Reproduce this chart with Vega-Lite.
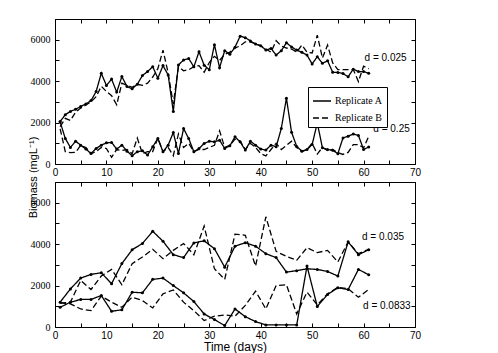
{
  "$schema": "https://vega.github.io/schema/vega-lite/v6.json",
  "autosize": {"type": "pad"},
  "padding": {"left": 26, "top": 18, "right": 0, "bottom": 0},
  "background": "white",
  "bounds": "flush",
  "spacing": 18,
  "resolve": {"scale": {"strokeDash": "independent"}, "legend": {"strokeDash": "independent"}},
  "config": {
    "view": {"stroke": "black", "strokeWidth": 1},
    "axis": {"domain": false, "grid": false, "tickColor": "black", "tickSize": -4, "tickWidth": 1, "labelColor": "black", "titleColor": "black"}
  },
  "datasets": {
    "top": [
      {"day":1,"d":"0.025","A":2050,"B":1800},{"day":1,"d":"0.25","A":2030,"B":1700},
      {"day":2,"d":"0.025","A":2380,"B":2200},{"day":2,"d":"0.25","A":1230,"B":600},
      {"day":3,"d":"0.025","A":2540,"B":2100},{"day":3,"d":"0.25","A":800,"B":550},
      {"day":4,"d":"0.025","A":2640,"B":2500},{"day":4,"d":"0.25","A":1100,"B":560},
      {"day":5,"d":"0.025","A":2780,"B":2700},{"day":5,"d":"0.25","A":910,"B":900},
      {"day":6,"d":"0.025","A":2900,"B":2850},{"day":6,"d":"0.25","A":720,"B":800},
      {"day":7,"d":"0.025","A":3060,"B":3000},{"day":7,"d":"0.25","A":510,"B":500},
      {"day":8,"d":"0.025","A":3500,"B":3250},{"day":8,"d":"0.25","A":750,"B":600},
      {"day":9,"d":"0.025","A":4380,"B":3750},{"day":9,"d":"0.25","A":910,"B":800},
      {"day":10,"d":"0.025","A":3790,"B":3500},{"day":10,"d":"0.25","A":1020,"B":750},
      {"day":11,"d":"0.025","A":4100,"B":3300},{"day":11,"d":"0.25","A":1040,"B":320},
      {"day":12,"d":"0.025","A":3470,"B":2860},{"day":12,"d":"0.25","A":720,"B":700},
      {"day":13,"d":"0.025","A":4220,"B":3900},{"day":13,"d":"0.25","A":910,"B":650},
      {"day":14,"d":"0.025","A":3740,"B":3800},{"day":14,"d":"0.25","A":620,"B":700},
      {"day":15,"d":"0.025","A":3630,"B":3700},{"day":15,"d":"0.25","A":400,"B":500},
      {"day":16,"d":"0.025","A":3850,"B":3850},{"day":16,"d":"0.25","A":590,"B":1250},
      {"day":17,"d":"0.025","A":4270,"B":3800},{"day":17,"d":"0.25","A":640,"B":500},
      {"day":18,"d":"0.025","A":4460,"B":3900},{"day":18,"d":"0.25","A":430,"B":600},
      {"day":19,"d":"0.025","A":4700,"B":4200},{"day":19,"d":"0.25","A":830,"B":600},
      {"day":20,"d":"0.025","A":4140,"B":4600},{"day":20,"d":"0.25","A":1230,"B":1250},
      {"day":21,"d":"0.025","A":4750,"B":5500},{"day":21,"d":"0.25","A":590,"B":600},
      {"day":22,"d":"0.025","A":4300,"B":4400},{"day":22,"d":"0.25","A":910,"B":800},
      {"day":23,"d":"0.025","A":2530,"B":2900},{"day":23,"d":"0.25","A":1520,"B":400},
      {"day":24,"d":"0.025","A":4780,"B":4700},{"day":24,"d":"0.25","A":510,"B":1450},
      {"day":25,"d":"0.025","A":5020,"B":4500},{"day":25,"d":"0.25","A":1710,"B":800},
      {"day":26,"d":"0.025","A":5090,"B":4550},{"day":26,"d":"0.25","A":1230,"B":1000},
      {"day":27,"d":"0.025","A":4690,"B":4700},{"day":27,"d":"0.25","A":590,"B":600},
      {"day":28,"d":"0.025","A":5420,"B":4750},{"day":28,"d":"0.25","A":750,"B":700},
      {"day":29,"d":"0.025","A":4770,"B":4430},{"day":29,"d":"0.25","A":990,"B":700},
      {"day":30,"d":"0.025","A":4550,"B":4900},{"day":30,"d":"0.25","A":1100,"B":800},
      {"day":31,"d":"0.025","A":5760,"B":5200},{"day":31,"d":"0.25","A":1070,"B":900},
      {"day":32,"d":"0.025","A":4650,"B":5000},{"day":32,"d":"0.25","A":1150,"B":1600},
      {"day":33,"d":"0.025","A":5470,"B":5300},{"day":33,"d":"0.25","A":750,"B":800},
      {"day":34,"d":"0.025","A":5300,"B":5400},{"day":34,"d":"0.25","A":880,"B":900},
      {"day":35,"d":"0.025","A":5640,"B":5600},{"day":35,"d":"0.25","A":1310,"B":1200},
      {"day":36,"d":"0.025","A":6170,"B":5700},{"day":36,"d":"0.25","A":1070,"B":1100},
      {"day":37,"d":"0.025","A":6100,"B":5900},{"day":37,"d":"0.25","A":670,"B":700},
      {"day":38,"d":"0.025","A":5940,"B":5900},{"day":38,"d":"0.25","A":1100,"B":1000},
      {"day":39,"d":"0.025","A":5790,"B":5800},{"day":39,"d":"0.25","A":910,"B":800},
      {"day":40,"d":"0.025","A":5710,"B":5700},{"day":40,"d":"0.25","A":720,"B":500},
      {"day":41,"d":"0.025","A":5500,"B":5550},{"day":41,"d":"0.25","A":670,"B":390},
      {"day":42,"d":"0.025","A":5580,"B":5400},{"day":42,"d":"0.25","A":910,"B":700},
      {"day":43,"d":"0.025","A":5260,"B":5950},{"day":43,"d":"0.25","A":830,"B":1000},
      {"day":44,"d":"0.025","A":5470,"B":5700},{"day":44,"d":"0.25","A":1710,"B":700},
      {"day":45,"d":"0.025","A":5850,"B":5600},{"day":45,"d":"0.25","A":3180,"B":900},
      {"day":46,"d":"0.025","A":5650,"B":5550},{"day":46,"d":"0.25","A":1530,"B":1100},
      {"day":47,"d":"0.025","A":5500,"B":5400},{"day":47,"d":"0.25","A":850,"B":800},
      {"day":48,"d":"0.025","A":5390,"B":5740},{"day":48,"d":"0.25","A":620,"B":600},
      {"day":49,"d":"0.025","A":5260,"B":5400},{"day":49,"d":"0.25","A":700,"B":700},
      {"day":50,"d":"0.025","A":4830,"B":5360},{"day":50,"d":"0.25","A":940,"B":1000},
      {"day":51,"d":"0.025","A":5180,"B":6220},{"day":51,"d":"0.25","A":1980,"B":480},
      {"day":52,"d":"0.025","A":4860,"B":5120},{"day":52,"d":"0.25","A":780,"B":800},
      {"day":53,"d":"0.025","A":4980,"B":5740},{"day":53,"d":"0.25","A":700,"B":650},
      {"day":54,"d":"0.025","A":4430,"B":4880},{"day":54,"d":"0.25","A":660,"B":700},
      {"day":55,"d":"0.025","A":4420,"B":4560},{"day":55,"d":"0.25","A":500,"B":550},
      {"day":56,"d":"0.025","A":4370,"B":4560},{"day":56,"d":"0.25","A":1260,"B":460},
      {"day":57,"d":"0.025","A":4210,"B":4560},{"day":57,"d":"0.25","A":1340,"B":560},
      {"day":58,"d":"0.025","A":4580,"B":4560},{"day":58,"d":"0.25","A":1450,"B":940},
      {"day":59,"d":"0.025","A":4460,"B":3980},{"day":59,"d":"0.25","A":1380,"B":940},
      {"day":60,"d":"0.025","A":4460,"B":4720},{"day":60,"d":"0.25","A":700,"B":780},
      {"day":61,"d":"0.025","A":4380,"B":4600},{"day":61,"d":"0.25","A":820,"B":1340}
    ],
    "bottom": [
      {"day":1,"d":"0.035","A":1200,"B":1150},{"day":1,"d":"0.0833","A":950,"B":1160},
      {"day":3,"d":"0.035","A":1840,"B":1200},{"day":3,"d":"0.0833","A":1200,"B":1120},
      {"day":5,"d":"0.035","A":2360,"B":2250},{"day":5,"d":"0.0833","A":1330,"B":870},
      {"day":7,"d":"0.035","A":2540,"B":1810},{"day":7,"d":"0.0833","A":1330,"B":790},
      {"day":9,"d":"0.035","A":2620,"B":2460},{"day":9,"d":"0.0833","A":1520,"B":1490},
      {"day":11,"d":"0.035","A":2090,"B":2780},{"day":11,"d":"0.0833","A":760,"B":1200},
      {"day":13,"d":"0.035","A":3060,"B":2040},{"day":13,"d":"0.0833","A":830,"B":950},
      {"day":15,"d":"0.035","A":3730,"B":3060},{"day":15,"d":"0.0833","A":1680,"B":1440},
      {"day":17,"d":"0.035","A":4030,"B":3380},{"day":17,"d":"0.0833","A":1650,"B":1280},
      {"day":19,"d":"0.035","A":4620,"B":3750},{"day":19,"d":"0.0833","A":2300,"B":920},
      {"day":21,"d":"0.035","A":4140,"B":3300},{"day":21,"d":"0.0833","A":2360,"B":1600},
      {"day":23,"d":"0.035","A":3490,"B":3700},{"day":23,"d":"0.0833","A":2000,"B":1790},
      {"day":25,"d":"0.035","A":3350,"B":4030},{"day":25,"d":"0.0833","A":1650,"B":1200},
      {"day":27,"d":"0.035","A":4060,"B":3490},{"day":27,"d":"0.0833","A":1230,"B":790},
      {"day":29,"d":"0.035","A":4160,"B":4870},{"day":29,"d":"0.0833","A":630,"B":310},
      {"day":31,"d":"0.035","A":3780,"B":2810},{"day":31,"d":"0.0833","A":360,"B":520},
      {"day":33,"d":"0.035","A":2890,"B":2300},{"day":33,"d":"0.0833","A":70,"B":580},
      {"day":35,"d":"0.035","A":3900,"B":4480},{"day":35,"d":"0.0833","A":870,"B":520},
      {"day":37,"d":"0.035","A":4070,"B":4430},{"day":37,"d":"0.0833","A":500,"B":1040},
      {"day":39,"d":"0.035","A":3900,"B":2940},{"day":39,"d":"0.0833","A":260,"B":1730},
      {"day":41,"d":"0.035","A":3540,"B":5320},{"day":41,"d":"0.0833","A":100,"B":870},
      {"day":43,"d":"0.035","A":3350,"B":3650},{"day":43,"d":"0.0833","A":100,"B":2000},
      {"day":45,"d":"0.035","A":2650,"B":3410},{"day":45,"d":"0.0833","A":100,"B":2040},
      {"day":47,"d":"0.035","A":2720,"B":3220},{"day":47,"d":"0.0833","A":100,"B":630},
      {"day":49,"d":"0.035","A":2810,"B":3830},{"day":49,"d":"0.0833","A":2940,"B":1680},
      {"day":51,"d":"0.035","A":2780,"B":3590},{"day":51,"d":"0.0833","A":990,"B":1070},
      {"day":53,"d":"0.035","A":2680,"B":3700},{"day":53,"d":"0.0833","A":1570,"B":1600},
      {"day":55,"d":"0.035","A":2460,"B":3140},{"day":55,"d":"0.0833","A":1890,"B":1920},
      {"day":57,"d":"0.035","A":4110,"B":4110},{"day":57,"d":"0.0833","A":1810,"B":1840},
      {"day":59,"d":"0.035","A":3490,"B":3540},{"day":59,"d":"0.0833","A":2780,"B":1440},
      {"day":61,"d":"0.035","A":3730,"B":3750},{"day":61,"d":"0.0833","A":2520,"B":1810}
    ],
    "topLabels": [
      {"day":60.2,"biomass":5140,"t":"d = 0.025"},
      {"day":61.9,"biomass":1680,"t":"d = 0.25"}
    ],
    "bottomLabels": [
      {"day":59.7,"biomass":4330,"t":"d = 0.035"},
      {"day":59.9,"biomass":1020,"t":"d = 0.0833"}
    ]
  },
  "vconcat": [
    {
      "width": 360,
      "height": 145,
      "resolve": {"axis": {"x": "independent", "y": "independent"}},
      "layer": [
        {
          "data": {"name": "top"},
          "transform": [{"fold": ["A", "B"], "as": ["rep", "biomass"]}],
          "mark": {"type": "line", "color": "black", "strokeWidth": 1.3},
          "encoding": {
            "x": {"field": "day", "type": "quantitative", "scale": {"domain": [0, 70], "nice": false},
              "axis": {"orient": "bottom", "title": null, "values": [0,5,10,15,20,25,30,35,40,45,50,55,60,65,70],
                "labelExpr": "datum.value % 10 === 0 ? datum.label : ''", "labelPadding": 7,
                "labelFont": "Liberation Sans", "labelFontSize": 10, "labelFlush": false}},
            "y": {"field": "biomass", "type": "quantitative", "scale": {"domain": [0, 7000], "nice": false},
              "axis": {"orient": "left", "values": [0,1000,2000,3000,4000,5000,6000,7000], "format": "d",
                "labelExpr": "datum.value % 2000 === 0 ? datum.label : ''", "labelPadding": 9,
                "labelFont": "Liberation Serif", "labelFontSize": 10, "labelFlush": false,
                "title": "Biomass (mgL⁻¹)", "titleFont": "Liberation Sans", "titleFontSize": 11,
                "titleFontWeight": "normal", "titleX": -22, "titleY": 158, "titleAngle": -90,
                "titleAlign": "center", "titleBaseline": "middle"}},
            "detail": {"field": "d"},
            "strokeDash": {"field": "rep", "type": "nominal",
              "scale": {"domain": ["A", "B"], "range": [[1, 0], [6, 3]]},
              "legend": {"orient": "none", "legendX": 253, "legendY": 68, "title": null,
                "labelExpr": "'Replicate ' + datum.label", "labelFont": "Liberation Serif",
                "labelFontSize": 10, "labelColor": "black", "labelOffset": 3,
                "symbolType": "stroke", "symbolSize": 324, "symbolStrokeWidth": 1.3,
                "symbolStrokeColor": "black", "strokeColor": "black", "fillColor": "white",
                "padding": 4, "rowPadding": 2}}
          }
        },
        {
          "data": {"name": "top"},
          "transform": [{"fold": ["A"], "as": ["rep", "biomass"]}],
          "mark": {"type": "point", "filled": true, "color": "black", "size": 9, "opacity": 1},
          "encoding": {
            "x": {"field": "day", "type": "quantitative", "scale": {"domain": [0, 70], "nice": false},
              "axis": {"orient": "top", "title": null, "labels": false, "values": [0,5,10,15,20,25,30,35,40,45,50,55,60,65,70]}},
            "y": {"field": "biomass", "type": "quantitative", "scale": {"domain": [0, 7000], "nice": false},
              "axis": {"orient": "right", "title": null, "labels": false, "values": [0,1000,2000,3000,4000,5000,6000,7000]}}
          }
        },
        {
          "data": {"name": "topLabels"},
          "mark": {"type": "text", "align": "left", "baseline": "middle", "font": "Liberation Sans", "fontSize": 10, "color": "black"},
          "encoding": {
            "x": {"field": "day", "type": "quantitative", "axis": null},
            "y": {"field": "biomass", "type": "quantitative", "axis": null},
            "text": {"field": "t"}
          }
        }
      ]
    },
    {
      "width": 360,
      "height": 145,
      "resolve": {"axis": {"x": "independent", "y": "independent"}},
      "layer": [
        {
          "data": {"name": "bottom"},
          "transform": [{"fold": ["A", "B"], "as": ["rep", "biomass"]}],
          "mark": {"type": "line", "color": "black", "strokeWidth": 1.3},
          "encoding": {
            "x": {"field": "day", "type": "quantitative", "scale": {"domain": [0, 70], "nice": false},
              "axis": {"orient": "bottom", "values": [0,5,10,15,20,25,30,35,40,45,50,55,60,65,70],
                "labelExpr": "datum.value % 10 === 0 ? datum.label : ''", "labelPadding": 7,
                "labelFont": "Liberation Sans", "labelFontSize": 10, "labelFlush": false,
                "title": "Time (days)", "titleFont": "Liberation Sans", "titleFontSize": 12,
                "titleFontWeight": "normal", "titleY": 19.5, "titleBaseline": "middle"}},
            "y": {"field": "biomass", "type": "quantitative", "scale": {"domain": [0, 7000], "nice": false},
              "axis": {"orient": "left", "title": null, "values": [0,1000,2000,3000,4000,5000,6000,7000], "format": "d",
                "labelExpr": "datum.value % 2000 === 0 ? datum.label : ''", "labelPadding": 9,
                "labelFont": "Liberation Serif", "labelFontSize": 10, "labelFlush": false}},
            "detail": {"field": "d"},
            "strokeDash": {"field": "rep", "type": "nominal",
              "scale": {"domain": ["A", "B"], "range": [[1, 0], [6, 3]]}, "legend": null}
          }
        },
        {
          "data": {"name": "bottom"},
          "transform": [{"fold": ["A"], "as": ["rep", "biomass"]}],
          "mark": {"type": "point", "filled": true, "color": "black", "size": 9, "opacity": 1},
          "encoding": {
            "x": {"field": "day", "type": "quantitative", "scale": {"domain": [0, 70], "nice": false},
              "axis": {"orient": "top", "title": null, "labels": false, "values": [0,5,10,15,20,25,30,35,40,45,50,55,60,65,70]}},
            "y": {"field": "biomass", "type": "quantitative", "scale": {"domain": [0, 7000], "nice": false},
              "axis": {"orient": "right", "title": null, "labels": false, "values": [0,1000,2000,3000,4000,5000,6000,7000]}}
          }
        },
        {
          "data": {"name": "bottomLabels"},
          "mark": {"type": "text", "align": "left", "baseline": "middle", "font": "Liberation Sans", "fontSize": 10, "color": "black"},
          "encoding": {
            "x": {"field": "day", "type": "quantitative", "axis": null},
            "y": {"field": "biomass", "type": "quantitative", "axis": null},
            "text": {"field": "t"}
          }
        }
      ]
    }
  ]
}
